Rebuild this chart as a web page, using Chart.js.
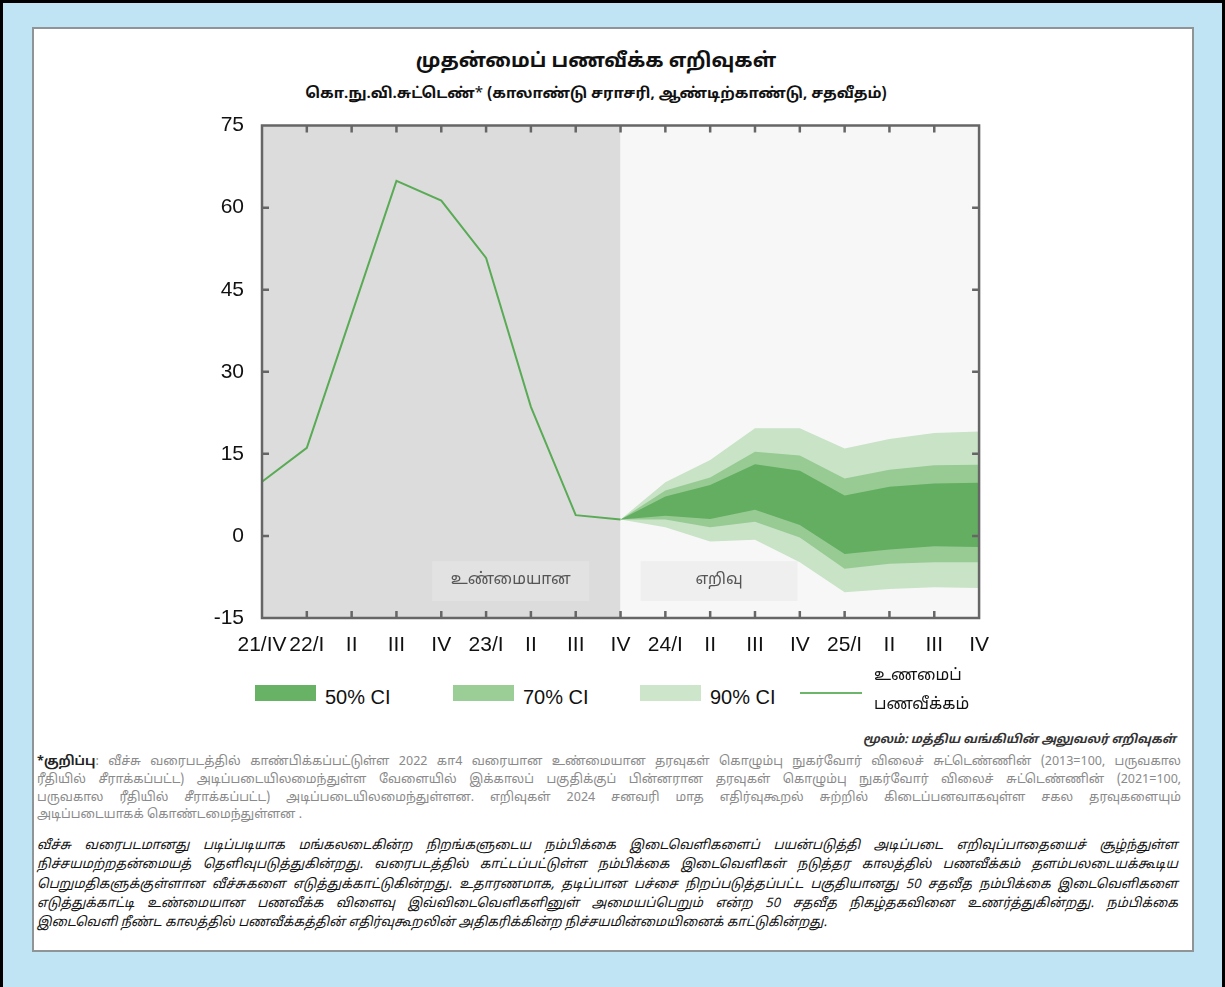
<!DOCTYPE html>
<html>
<head>
<meta charset="utf-8">
<script src="https://cdn.jsdelivr.net/npm/chart.js@4.4.1/dist/chart.umd.min.js"></script>
<style>
  html, body { margin: 0; padding: 0; }
  body { width: 1225px; height: 987px; background: #c1e4f4; position: relative; overflow: hidden;
         font-family: 'Noto Sans Tamil', 'Lohit Tamil', 'Latha', 'FreeSans', 'Noto Sans', 'Liberation Sans', sans-serif; }
  #frameTop { position: absolute; left: 0; top: 0; width: 1225px; height: 3px; background: #000; }
  #frameLeft { position: absolute; left: 0; top: 0; width: 3px; height: 987px; background: #000; }
  #frameRight { position: absolute; right: 0; top: 0; width: 3px; height: 987px; background: #000; }
  #panel { position: absolute; left: 32px; top: 27px; width: 1158px; height: 921px; background: #fff; border: 2px solid #8f9496; }
  #title { position: absolute; left: 0; width: 1192px; top: 50px; text-align: center; font-size: 20px; font-weight: bold; color: #111; }
  #subtitle { position: absolute; left: 0; width: 1192px; top: 85px; text-align: center; font-size: 15px; font-weight: bold; color: #111; }
  #chartWrap { position: absolute; left: 150px; top: 95px; width: 854px; height: 575px; }
  #chartWrap canvas { display: block; }
  .leg { position: absolute; font-size: 20px; color: #111; font-family: 'Liberation Sans', Arial, sans-serif; }
  .swatch { position: absolute; height: 16px; width: 61px; }
  .tam { position: absolute; font-size: 16px; color: #111; }
  #source { position: absolute; right: 49px; top: 733px; font-size: 12px; font-style: italic; font-weight: bold; color: #333; }
  .note1 { position: absolute; left: 37px; width: 1144px; font-size: 12.5px; color: #8a8a8a; white-space: nowrap; text-align: justify; text-align-last: justify; }
  .note2 { position: absolute; left: 37px; width: 1141px; font-size: 13px; font-style: italic; color: #111; white-space: nowrap; text-align: justify; text-align-last: justify; }
  .last { text-align-last: left; }
</style>
</head>
<body>
<div id="frameTop"></div><div id="frameLeft"></div><div id="frameRight"></div>
<div id="panel"></div>
<div id="title">முதன்மைப் பணவீக்க எறிவுகள்</div>
<div id="subtitle">கொ.நு.வி.சுட்டெண்<span style="font-weight:normal">*</span> (காலாண்டு சராசரி, ஆண்டிற்காண்டு, சதவீதம்)</div>
<div id="chartWrap"><canvas id="c" width="854" height="575"></canvas></div>

<div class="swatch" style="left:255px; top:685px; background:#67b265;"></div>
<div class="leg" style="left:325px; top:686px;">50% CI</div>
<div class="swatch" style="left:453px; top:685px; background:#9bce97;"></div>
<div class="leg" style="left:523px; top:686px;">70% CI</div>
<div class="swatch" style="left:640px; top:685px; background:#cde6cb;"></div>
<div class="leg" style="left:710px; top:686px;">90% CI</div>
<div style="position:absolute; left:800px; top:692px; width:62px; height:2px; background:#6db56a;"></div>
<div class="tam" style="left:874px; top:666px;">உணமைப்</div>
<div class="tam" style="left:874px; top:695px;">பணவீக்கம்</div>

<div id="source">மூலம்: மத்திய வங்கியின் அலுவலர் எறிவுகள்</div>

<div class="note1" style="top:754px;"><b style="color:#222">*குறிப்பு</b>: வீச்சு வரைபடத்தில் காண்பிக்கப்பட்டுள்ள 2022 கா4 வரையான உண்மையான தரவுகள் கொழும்பு நுகர்வோர் விலைச் சுட்டெண்ணின் (2013=100, பருவகால</div>
<div class="note1" style="top:772px;">ரீதியில் சீராக்கப்பட்ட) அடிப்படையிலமைந்துள்ள வேளையில் இக்காலப் பகுதிக்குப் பின்னரான தரவுகள் கொழும்பு நுகர்வோர் விலைச் சுட்டெண்ணின் (2021=100,</div>
<div class="note1" style="top:790px;">பருவகால ரீதியில் சீராக்கப்பட்ட) அடிப்படையிலமைந்துள்ளன. எறிவுகள் 2024 சனவரி மாத எதிர்வுகூறல் சுற்றில் கிடைப்பனவாகவுள்ள சகல தரவுகளையும்</div>
<div class="note1 last" style="top:807px;">அடிப்படையாகக் கொண்டமைந்துள்ளன .</div>

<div class="note2" style="top:838px;">வீச்சு வரைபடமானது படிப்படியாக மங்கலடைகின்ற நிறங்களுடைய நம்பிக்கை இடைவெளிகளைப் பயன்படுத்தி அடிப்படை எறிவுப்பாதையைச் சூழ்ந்துள்ள</div>
<div class="note2" style="top:857px;">நிச்சயமற்றதன்மையத் தெளிவுபடுத்துகின்றது. வரைபடத்தில் காட்டப்பட்டுள்ள நம்பிக்கை இடைவெளிகள் நடுத்தர காலத்தில் பணவீக்கம் தளம்பலடையக்கூடிய</div>
<div class="note2" style="top:877px;">பெறுமதிகளுக்குள்ளான வீச்சுகளை எடுத்துக்காட்டுகின்றது. உதாரணமாக, தடிப்பான பச்சை நிறப்படுத்தப்பட்ட பகுதியானது 50 சதவீத நம்பிக்கை இடைவெளிகளை</div>
<div class="note2" style="top:896px;">எடுத்துக்காட்டி உண்மையான பணவீக்க விளைவு இவ்விடைவெளிகளினுள் அமையப்பெறும் என்ற 50 சதவீத நிகழ்தகவினை உணர்த்துகின்றது. நம்பிக்கை</div>
<div class="note2 last" style="top:915px;">இடைவெளி நீண்ட காலத்தில் பணவீக்கத்தின் எதிர்வுகூறலின் அதிகரிக்கின்ற நிச்சயமின்மையினைக் காட்டுகின்றது.</div>

<script>
// ---- data ----
const quarters = ['21/IV','22/I','II','III','IV','23/I','II','III','IV','24/I','II','III','IV','25/I','II','III','IV'];
const yTicks = [-15, 0, 15, 30, 45, 60, 75];
const actualInflation = [9.9, 16.1, 40.5, 64.9, 61.3, 50.8, 23.6, 3.8, 3.0, null, null, null, null, null, null, null, null];
const ci90Upper = [null, null, null, null, null, null, null, null, 3.0, 9.8, 13.9, 19.7, 19.7, 16.0, 17.7, 18.8, 19.1];
const ci90Lower = [null, null, null, null, null, null, null, null, 3.0, 1.6, -1.0, -0.7, -4.8, -10.3, -9.7, -9.4, -9.5];
const ci70Upper = [null, null, null, null, null, null, null, null, 3.0, 8.3, 10.7, 15.4, 14.7, 10.5, 12.1, 12.9, 13.0];
const ci70Lower = [null, null, null, null, null, null, null, null, 3.0, 3.0, 1.6, 2.6, -0.3, -6.0, -5.1, -4.8, -4.8];
const ci50Upper = [null, null, null, null, null, null, null, null, 3.0, 7.2, 9.3, 13.1, 11.9, 7.4, 9.0, 9.6, 9.7];
const ci50Lower = [null, null, null, null, null, null, null, null, 3.0, 3.7, 3.1, 4.8, 2.0, -3.3, -2.5, -1.9, -2.0];
const periodLabels = ['உண்மையான', 'எறிவு'];
const lastActualIndex = 8;

const tamilFont = "'Noto Sans Tamil', 'Lohit Tamil', 'Latha', 'FreeSans', 'Noto Sans', sans-serif";

const bgPlugin = {
  id: 'bg',
  beforeDatasetsDraw(chart) {
    const { ctx, chartArea: a, scales: { x, y } } = chart;
    const xs = x.getPixelForValue(lastActualIndex);
    ctx.save();
    ctx.fillStyle = '#dcdcdc';
    ctx.fillRect(a.left, a.top, xs - a.left, a.bottom - a.top);
    ctx.fillStyle = '#f7f7f7';
    ctx.fillRect(xs, a.top, a.right - xs, a.bottom - a.top);
    const boxes = [[3.8, 7.3, '#e2e2e2'], [8.45, 11.95, '#efefef']];
    const step = (x.right - x.left) / (quarters.length - 1);
    boxes.forEach((b, i) => {
      const l = x.left + step * b[0];
      const r = x.left + step * b[1];
      const t = y.getPixelForValue(-4.6), bt = y.getPixelForValue(-11.9);
      ctx.fillStyle = b[2];
      ctx.fillRect(l, t, r - l, bt - t);
      ctx.fillStyle = '#555';
      ctx.font = '16px ' + tamilFont;
      ctx.textAlign = 'center';
      ctx.textBaseline = 'middle';
      ctx.fillText(periodLabels[i], (l + r) / 2, (t + bt) / 2);
    });
    ctx.restore();
  },
  afterDraw(chart) {
    const { ctx, chartArea: a, scales: { x, y } } = chart;
    ctx.save();
    ctx.strokeStyle = '#666666';
    ctx.lineWidth = 2.5;
    ctx.beginPath();
    ctx.rect(a.left, a.top, a.right - a.left, a.bottom - a.top);
    for (let i = 0; i < quarters.length; i++) {
      const px = x.getPixelForValue(i);
      ctx.moveTo(px, a.bottom); ctx.lineTo(px, a.bottom - 7);
      ctx.moveTo(px, a.top); ctx.lineTo(px, a.top + 7);
    }
    yTicks.forEach(v => {
      const py = y.getPixelForValue(v);
      ctx.moveTo(a.left, py); ctx.lineTo(a.left + 7, py);
      ctx.moveTo(a.right, py); ctx.lineTo(a.right - 7, py);
    });
    ctx.stroke();
    ctx.restore();
  }
};

const band = (data, color, target) => ({
  data, borderWidth: 0, pointRadius: 0, backgroundColor: color, borderColor: color,
  fill: target === undefined ? false : { target }, spanGaps: false, tension: 0
});

new Chart(document.getElementById('c'), {
  type: 'line',
  data: {
    labels: quarters,
    datasets: [
      { data: actualInflation, borderColor: '#5aab55', borderWidth: 2, pointRadius: 0, fill: false, tension: 0 },
      band(ci50Upper, '#63ae60', 2),
      band(ci50Lower, '#63ae60'),
      band(ci70Upper, '#97cb93', 4),
      band(ci70Lower, '#97cb93'),
      band(ci90Upper, '#c8e3c6', 6),
      band(ci90Lower, '#c8e3c6')
    ]
  },
  options: {
    responsive: false,
    animation: false,
    events: [],
    layout: { padding: { top: 0, right: 13, left: 0, bottom: 0 } },
    plugins: { legend: { display: false }, tooltip: { enabled: false } },
    scales: {
      x: {
        type: 'category', offset: false,
        grid: { display: false, drawTicks: false }, border: { display: false },
        ticks: { color: '#111', font: { size: 21, family: "'Liberation Sans', Arial, sans-serif" }, padding: 15, maxRotation: 0, autoSkip: false },
        afterFit(s) { s.height = 52; }
      },
      y: {
        min: -15, max: 75,
        grid: { display: false, drawTicks: false }, border: { display: false },
        afterBuildTicks(s) { s.ticks = yTicks.map(v => ({ value: v })); },
        ticks: { color: '#111', font: { size: 21, family: "'Liberation Sans', Arial, sans-serif" }, padding: 18 },
        afterFit(s) { s.width = 112; }
      }
    }
  },
  plugins: [bgPlugin]
});
</script>
</body>
</html>
